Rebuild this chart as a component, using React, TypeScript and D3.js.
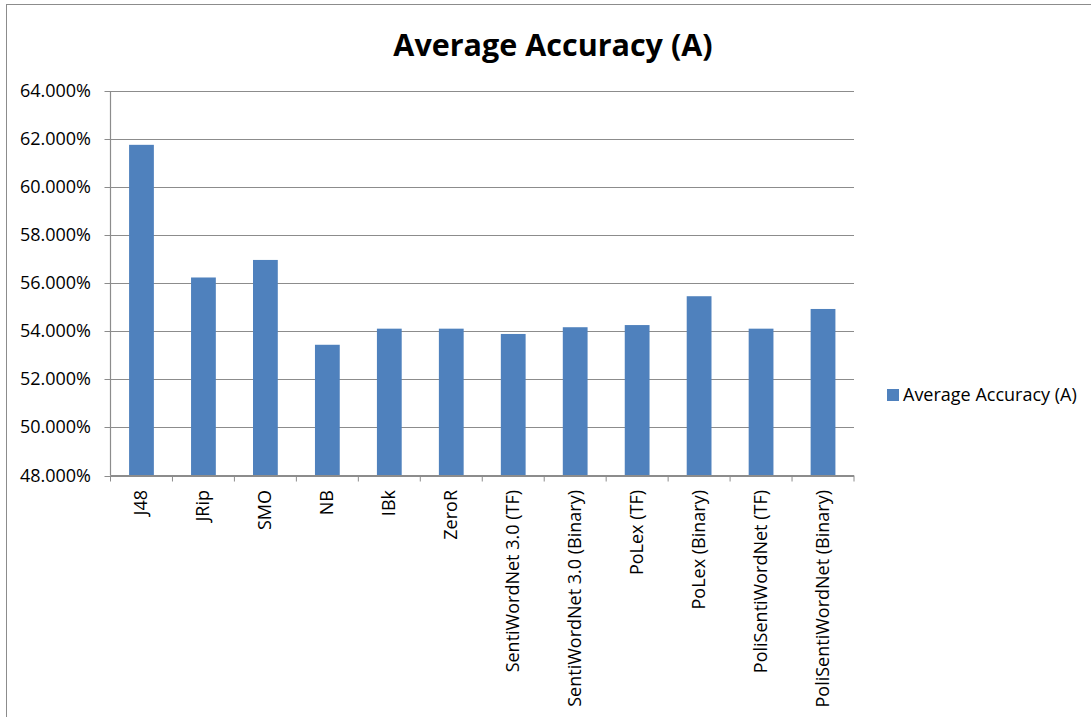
import React from "react";
import * as d3 from "d3";

const categories = [
  "J48", "JRip", "SMO", "NB", "IBk", "ZeroR",
  "SentiWordNet 3.0 (TF)", "SentiWordNet 3.0 (Binary)",
  "PoLex (TF)", "PoLex (Binary)",
  "PoliSentiWordNet (TF)", "PoliSentiWordNet (Binary)",
];
const values = [61.76, 56.24, 56.97, 53.44, 54.11, 54.11, 53.89, 54.17, 54.26, 55.46, 54.11, 54.93];
const yTicks = [48, 50, 52, 54, 56, 58, 60, 62, 64];
const seriesName = "Average Accuracy (A)";
const title = "Average Accuracy (A)";

const W = 1091;
const H = 717;
const plot = { left: 110.5, right: 854, top: 91, bottom: 475.5 };
const FONT = "'Open Sans', 'Liberation Sans', sans-serif";
const BAR = "#4F81BD";
const GRID = "#8c8c8c";

export default function App() {
  const band = d3.scaleBand<string>().domain(categories).range([plot.left, plot.right]);
  const y = d3.scaleLinear().domain([48, 64]).range([plot.bottom, plot.top]);
  const bw = band.bandwidth();
  const barW = bw / 2.5;

  return (
    <svg width={W} height={H} style={{ position: "absolute", left: 0, top: 0, background: "#fff" }}>
      <rect x={6.5} y={4.5} width={W + 10} height={H + 10} fill="#fff" stroke="#8c8c8c" strokeWidth={1} />
      <text x={553} y={56} textAnchor="middle" fontFamily={FONT} fontWeight="bold" fontSize={30.5} fill="#000">{title}</text>
      {yTicks.map((t) => (
        <g key={t}>
          <line x1={plot.left - 6} x2={plot.right} y1={Math.round(y(t)) + 0.5} y2={Math.round(y(t)) + 0.5} stroke={GRID} strokeWidth={1} />
          <text x={91} y={y(t) + 6} textAnchor="end" fontFamily={FONT} fontSize={18} fill="#000">{t.toFixed(3)}%</text>
        </g>
      ))}
      {categories.map((c, i) => {
        const cx = (band(c) as number) + bw / 2;
        return (
          <rect key={c} x={cx - barW / 2} y={y(values[i])} width={barW} height={y(48) - y(values[i])} fill={BAR} />
        );
      })}
      <line x1={plot.left} x2={plot.left} y1={plot.top} y2={plot.bottom} stroke={GRID} strokeWidth={1.2} />
      <line x1={plot.left} x2={plot.right} y1={plot.bottom} y2={plot.bottom} stroke={GRID} strokeWidth={1.2} />
      {d3.range(categories.length + 1).map((i) => {
        const xx = plot.left + i * bw;
        return <line key={i} x1={xx} x2={xx} y1={plot.bottom} y2={plot.bottom + 6} stroke={GRID} strokeWidth={1} />;
      })}
      {categories.map((c) => {
        const cx = (band(c) as number) + bw / 2;
        return (
          <text key={c} transform={`translate(${cx + 6},490) rotate(-90)`} textAnchor="end" fontFamily={FONT} fontSize={18} fill="#000">{c}</text>
        );
      })}
      <rect x={887} y={389} width={12} height={12} fill={BAR} />
      <text x={903} y={401} fontFamily={FONT} fontSize={18} fill="#000">{seriesName}</text>
    </svg>
  );
}
